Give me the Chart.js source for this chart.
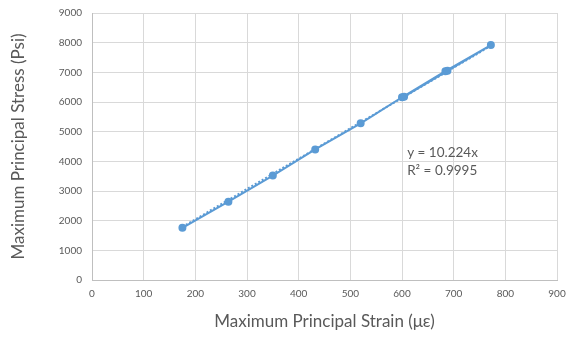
<!DOCTYPE html>
<html>
<head>
<meta charset="utf-8">
<script src="https://cdn.jsdelivr.net/npm/chart.js@4/dist/chart.umd.min.js"></script>
<style>
  html, body { margin: 0; padding: 0; background: #fff; }
  #wrap { width: 574px; height: 338px; }
</style>
</head>
<body>
<div id="wrap"><canvas id="stressChart" width="574" height="338"></canvas></div>
<script>
// measured points (strain in micro-strain, stress in psi)
const strainValues = [175, 264, 350, 432, 520, 600, 684, 772, 688, 604];
const stressValues = [1760, 2640, 3520, 4400, 5280, 6160, 7040, 7920, 7050, 6180];
const trendSlope = 10.224;
const trendR2 = '0.9995';
const xTicks = [0, 100, 200, 300, 400, 500, 600, 700, 800, 900];
const yTicks = [0, 1000, 2000, 3000, 4000, 5000, 6000, 7000, 8000, 9000];

const blue = '#5B9BD5';
const grey = '#595959';
const fontFamily = 'Lato, "Noto Sans", sans-serif';

const points = strainValues.map((x, i) => ({ x: x, y: stressValues[i] }));
const xMin = Math.min(...strainValues);
const xMax = Math.max(...strainValues);
const trendPoints = [xMin, xMax].map(x => ({ x: x, y: trendSlope * x }));

// equation text placed in data units
const equationLabel = {
    id: 'equationLabel',
    afterDatasetsDraw(chart) {
        const ctx = chart.ctx;
        const xs = chart.scales.x, ys = chart.scales.y;
        const px = xs.getPixelForValue(610);
        ctx.save();
        ctx.fillStyle = grey;
        ctx.font = '13.5px ' + fontFamily;
        ctx.textBaseline = 'middle';
        ctx.fillText('y = ' + trendSlope + 'x', px, ys.getPixelForValue(4300));
        ctx.fillText('R\u00B2 = ' + trendR2, px, ys.getPixelForValue(3700));
        ctx.restore();
    }
};

const ctx = document.getElementById('stressChart').getContext('2d');
new Chart(ctx, {
    type: 'scatter',
    data: {
        datasets: [
            {
                label: 'Data',
                data: points,
                showLine: true,
                borderColor: blue,
                backgroundColor: blue,
                borderWidth: 2,
                pointRadius: 3,
                pointHoverRadius: 3
            },
            {
                label: 'Linear',
                data: trendPoints,
                showLine: true,
                borderColor: blue,
                borderWidth: 2,
                borderDash: [2, 2],
                pointRadius: 0
            }
        ]
    },
    options: {
        responsive: false,
        animation: false,
        layout: { padding: { top: 13, right: 17, left: 4, bottom: 2 } },
        plugins: {
            legend: { display: false },
            tooltip: { enabled: false }
        },
        scales: {
            x: {
                type: 'linear',
                min: 0,
                max: 900,
                afterBuildTicks: (scale) => { scale.ticks = xTicks.map(v => ({ value: v })); },
                afterFit: (scale) => { scale.height = 56; },
                grid: { color: '#d9d9d9', drawTicks: false },
                border: { color: '#bfbfbf' },
                ticks: { color: grey, font: { family: fontFamily, size: 10 }, padding: 8, maxRotation: 0,
                         callback: (v) => String(v) },
                title: {
                    display: true,
                    text: 'Maximum Principal Strain (\u03BC\u03B5)',
                    color: grey,
                    font: { family: fontFamily, size: 17 },
                    padding: { top: 4 }
                }
            },
            y: {
                type: 'linear',
                min: 0,
                max: 9000,
                afterBuildTicks: (scale) => { scale.ticks = yTicks.map(v => ({ value: v })); },
                afterFit: (scale) => { scale.width = 88; scale.paddingTop = 0; },
                grid: { color: '#d9d9d9', drawTicks: false },
                border: { color: '#bfbfbf' },
                ticks: { color: grey, font: { family: fontFamily, size: 10 }, padding: 10,
                         callback: (v) => String(v) },
                title: {
                    display: true,
                    text: 'Maximum Principal Stress (Psi)',
                    color: grey,
                    font: { family: fontFamily, size: 17 }
                }
            }
        }
    },
    plugins: [equationLabel]
});
</script>
</body>
</html>
